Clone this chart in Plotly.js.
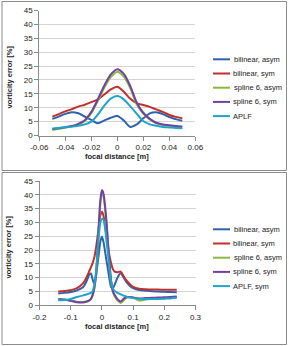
<!DOCTYPE html>
<html><head><meta charset="utf-8">
<script src="https://cdn.plot.ly/plotly-3.0.1.min.js"></script>
<style>html,body{margin:0;padding:0;background:#fff}#c{width:289px;height:346px}</style>
</head><body><div id="c"></div>
<script>
// ---- data ----
const seriesNamesTop = ["bilinear, asym", "bilinear, sym", "spline 6, asym", "spline 6, sym", "APLF"];
const seriesNamesBottom = ["bilinear, asym", "bilinear, sym", "spline 6, asym", "spline 6, sym", "APLF, sym"];
const seriesColors = ["#2F62AE", "#C0302C", "#8DB83E", "#7042A0", "#1FA3C8"];

const xTop = [-0.05,-0.045,-0.04,-0.035,-0.03,-0.025,-0.02,-0.015,-0.01,-0.005,0,0.005,0.01,0.015,0.02,0.025,0.03,0.035,0.04,0.045,0.05];
const topBilinearAsym = [6.0,6.8,7.8,8.4,8.0,6.8,5.6,4.4,5.4,6.4,7.0,5.4,3.1,4.0,6.2,8.0,8.4,7.7,6.6,5.9,5.3];
const topBilinearSym  = [6.8,7.7,8.7,9.5,10.4,11.1,12.0,13.0,14.8,16.6,17.6,15.8,13.2,11.6,11.0,10.3,9.4,8.5,7.4,6.7,6.2];
const topSplineAsym   = [2.0,2.4,2.9,3.2,3.9,5.2,8.0,12.4,17.2,21.0,23.0,21.2,17.0,11.2,7.8,5.8,4.4,3.9,3.5,3.2,2.9];
const topSplineSym    = [2.3,2.6,3.0,3.4,4.2,5.5,8.5,13.0,18.0,22.0,23.9,22.2,17.8,11.8,8.2,6.0,4.6,4.0,3.7,3.4,3.2];
const topAPLF         = [2.5,2.7,3.0,3.2,3.5,4.0,5.0,7.5,10.8,13.3,14.2,13.0,10.5,7.8,5.2,4.0,3.5,3.1,2.9,2.7,2.6];

const xBottom = [-0.14,-0.12,-0.1,-0.08,-0.06,-0.05,-0.04,-0.035,-0.03,-0.025,-0.02,-0.015,-0.01,-0.005,0,0.005,0.01,0.015,0.02,0.025,0.03,0.035,0.04,0.05,0.06,0.07,0.08,0.09,0.1,0.12,0.14,0.16,0.18,0.2,0.22,0.24];
const botBilinearAsym = [4.3,4.5,4.8,5.4,6.6,8.5,11.2,11.5,9.5,8.0,9.8,14.0,18.5,23.0,24.8,23.0,19.5,16.0,12.5,9.0,6.5,6.2,7.2,10.0,11.6,10.0,8.2,7.0,6.2,5.5,5.3,5.1,5.0,4.9,4.8,4.7];
const botBilinearSym  = [5.0,5.2,5.5,6.2,8.0,10.0,12.5,13.8,15.2,17.0,20.0,24.0,28.5,32.5,33.9,32.5,29.0,25.0,21.0,17.5,15.0,13.2,12.3,12.0,12.2,10.5,8.8,7.6,6.7,6.0,5.8,5.7,5.7,5.6,5.6,5.6];
const botSplineAsym   = [2.2,2.0,1.8,1.3,1.2,1.4,1.8,2.3,3.5,5.5,9.5,16.0,27.5,36.5,40.8,39.5,35.0,29.0,21.0,13.5,7.8,4.8,3.4,1.8,0.8,1.8,2.8,3.0,2.8,1.7,2.1,2.3,2.4,2.5,2.7,3.0];
const botSplineSym    = [2.2,2.1,1.6,1.1,1.0,1.3,1.8,2.4,3.7,6.0,10.0,17.0,29.0,38.0,41.7,40.5,36.0,30.0,22.0,14.5,8.5,5.2,4.0,2.2,1.4,2.4,3.0,3.0,2.8,2.5,2.6,2.7,2.8,2.9,3.0,3.2];
const botAPLF         = [1.8,1.9,2.3,3.0,3.6,3.9,4.3,4.5,5.0,7.0,11.0,18.0,25.0,30.0,31.3,31.0,28.0,23.0,18.0,12.5,8.5,6.2,5.3,4.5,4.0,3.5,3.1,2.8,2.6,2.4,2.3,2.3,2.3,2.4,2.5,2.7];

const xTickValsTop = [-0.06,-0.04,-0.02,0,0.02,0.04,0.06];
const xTickTextTop = ["-0.06","-0.04","-0.02","0","0.02","0.04","0.06"];
const xTickValsBottom = [-0.2,-0.1,0,0.1,0.2,0.3];
const xTickTextBottom = ["-0.2","-0.1","0","0.1","0.2","0.3"];
const yTickVals = [0,5,10,15,20,25,30,35,40,45];
const xTitle = "focal distance [m]";
const yTitle = "vorticity error [%]";

// ---- figure ----
const W = 289, H = 346;
const fx = px => px / W, fy = py => 1 - py / H;
const FONT = "Liberation Sans, Arial, sans-serif";

const topSeries = [topBilinearAsym, topBilinearSym, topSplineAsym, topSplineSym, topAPLF];
const botSeries = [botBilinearAsym, botBilinearSym, botSplineAsym, botSplineSym, botAPLF];
const traces = [];
topSeries.forEach((ys, i) => traces.push({
  x: xTop, y: ys, type: "scatter", mode: "lines", name: seriesNamesTop[i],
  line: {color: seriesColors[i], width: 2, shape: "spline", smoothing: 0.8},
  xaxis: "x", yaxis: "y", showlegend: false, hoverinfo: "skip"
}));
botSeries.forEach((ys, i) => traces.push({
  x: xBottom, y: ys, type: "scatter", mode: "lines", name: seriesNamesBottom[i],
  line: {color: seriesColors[i], width: 2, shape: "spline", smoothing: 0.8},
  xaxis: "x2", yaxis: "y2", showlegend: false, hoverinfo: "skip"
}));

const tickFont = {family: FONT, size: 8, color: "#222"};
function xAx(dom, rng, tv, tt, anchor) {
  return {domain: dom, range: rng, tickvals: tv, ticktext: tt, anchor: anchor,
    showline: true, linecolor: "#8a8a8a", linewidth: 1, ticks: "outside", ticklen: 4,
    tickcolor: "#8a8a8a", showgrid: false, zeroline: false, tickfont: tickFont, fixedrange: true};
}
function yAx(dom, anchor) {
  return {domain: dom, range: [0, 45], tickvals: yTickVals, anchor: anchor,
    showline: true, linecolor: "#8a8a8a", linewidth: 1, ticks: "outside", ticklen: 4,
    tickcolor: "#8a8a8a", showgrid: true, gridcolor: "#d4d4d4", gridwidth: 1,
    zeroline: false, tickfont: tickFont, fixedrange: true};
}

const shapes = [
  {type: "rect", xref: "paper", yref: "paper", x0: fx(2), x1: fx(286.5), y0: fy(170.5), y1: fy(1.5), line: {color: "#8c8c8c", width: 1}},
  {type: "rect", xref: "paper", yref: "paper", x0: fx(2), x1: fx(286.5), y0: fy(344.5), y1: fy(172.5), line: {color: "#8c8c8c", width: 1}}
];
const titleFont = {family: FONT, size: 7.5, color: "#222"};
function titleAnn(text, xpx, ypx, angle) {
  return {text: "<b>" + text + "</b>", xref: "paper", yref: "paper", x: fx(xpx), y: fy(ypx),
    xanchor: "center", yanchor: "middle", textangle: angle, showarrow: false, font: titleFont};
}
const annotations = [
  titleAnn(yTitle, 8.5, 77, -90),
  titleAnn(xTitle, 117, 156.5, 0),
  titleAnn(yTitle, 8.5, 247, -90),
  titleAnn(xTitle, 117, 326.5, 0)
];
function addLegend(names, topPx) {
  names.forEach((n, i) => {
    const py = topPx + i * 14.2;
    shapes.push({type: "line", xref: "paper", yref: "paper", x0: fx(213), x1: fx(230), y0: fy(py), y1: fy(py), line: {color: seriesColors[i], width: 2}});
    annotations.push({text: n, xref: "paper", yref: "paper", x: fx(231.5), y: fy(py), xanchor: "left", yanchor: "middle", showarrow: false, font: {family: FONT, size: 7.5, color: "#222"}});
  });
}
addLegend(seriesNamesTop, 59.3);
addLegend(seriesNamesBottom, 229.3);

const layout = {
  width: W, height: H, margin: {l: 0, r: 0, t: 0, b: 0},
  paper_bgcolor: "#fff", plot_bgcolor: "#fff", showlegend: false,
  xaxis: xAx([fx(39.3), fx(195.3)], [-0.06, 0.06], xTickValsTop, xTickTextTop, "y"),
  yaxis: yAx([fy(135.5), fy(10.6)], "x"),
  xaxis2: xAx([fx(39.5), fx(195.5)], [-0.2, 0.3], xTickValsBottom, xTickTextBottom, "y2"),
  yaxis2: yAx([fy(305.3), fy(181)], "x2"),
  shapes: shapes, annotations: annotations
};
Plotly.newPlot("c", traces, layout, {staticPlot: true, displayModeBar: false});
</script></body></html>
